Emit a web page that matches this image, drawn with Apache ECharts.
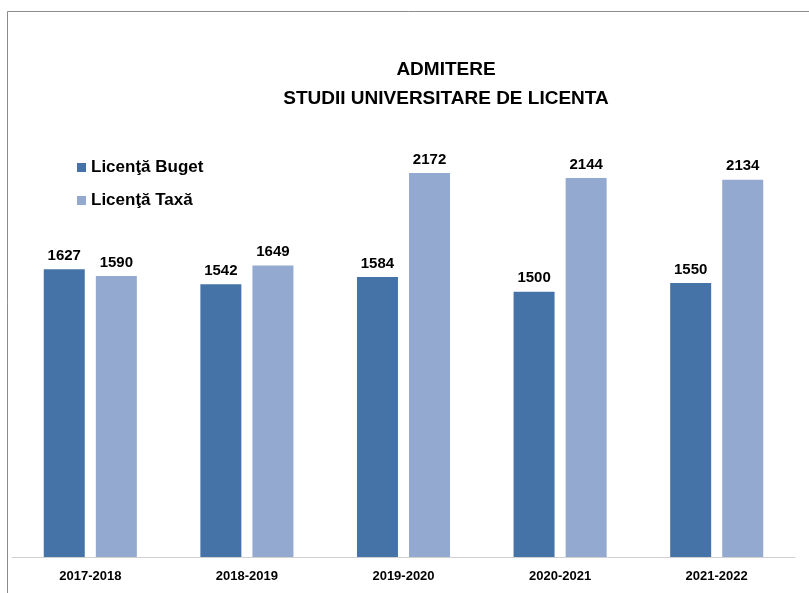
<!DOCTYPE html>
<html>
<head>
<meta charset="utf-8">
<script src="https://cdn.jsdelivr.net/npm/echarts@6/dist/echarts.min.js"></script>
<style>
  html, body { margin: 0; padding: 0; background: #fff; }
  #chart { width: 809px; height: 593px; }
</style>
</head>
<body>
<div id="chart"></div>
<script>
  // ani universitari
  var years = ['2017-2018', '2018-2019', '2019-2020', '2020-2021', '2021-2022'];
  var buget = [1627, 1542, 1584, 1500, 1550];
  var taxa = [1590, 1649, 2172, 2144, 2134];

  var chart = echarts.init(document.getElementById('chart'));
  var labelStyle = {
    show: true,
    position: 'top',
    distance: 6,
    color: '#000',
    fontWeight: 'bold',
    fontSize: 15,
    fontFamily: 'Liberation Sans, Arial, sans-serif'
  };
  chart.setOption({
    animation: false,
    backgroundColor: '#fff',
    graphic: [{
      type: 'rect',
      left: 5, top: 9,
      shape: { width: 830, height: 620 },
      style: { fill: 'none', stroke: '#8c8c8c', lineWidth: 1 }
    }],
    title: {
      text: 'ADMITERE\nSTUDII UNIVERSITARE DE LICENTA',
      left: 441,
      textAlign: 'center',
      top: 50,
      textStyle: {
        fontSize: 19,
        fontWeight: 'bold',
        color: '#000',
        lineHeight: 29,
        fontFamily: 'Liberation Sans, Arial, sans-serif'
      }
    },
    legend: {
      orient: 'vertical',
      left: 72,
      top: 154,
      itemWidth: 9,
      itemHeight: 9,
      itemGap: 16,
      icon: 'rect',
      textStyle: {
        fontSize: 17,
        fontWeight: 'bold',
        color: '#000',
        fontFamily: 'Liberation Sans, Arial, sans-serif'
      },
      data: ['Licenţă Buget', 'Licenţă Taxă']
    },
    grid: { left: 12, right: 14, top: 115, bottom: 36 },
    xAxis: {
      type: 'category',
      data: years,
      axisLine: { lineStyle: { color: '#d0d0d0', width: 1 } },
      axisTick: { show: false },
      axisLabel: {
        color: '#000',
        fontWeight: 'bold',
        fontSize: 13,
        margin: 13,
        fontFamily: 'Liberation Sans, Arial, sans-serif'
      }
    },
    yAxis: {
      type: 'value',
      min: 0,
      max: 2500,
      show: false,
      splitLine: { show: false }
    },
    series: [
      {
        name: 'Licenţă Buget',
        type: 'bar',
        data: buget,
        barWidth: 41,
        barGap: '27%',
        itemStyle: { color: '#4573a7' },
        label: labelStyle
      },
      {
        name: 'Licenţă Taxă',
        type: 'bar',
        data: taxa,
        barWidth: 41,
        itemStyle: { color: '#93a9d0' },
        label: labelStyle
      }
    ]
  });
</script>
</body>
</html>
